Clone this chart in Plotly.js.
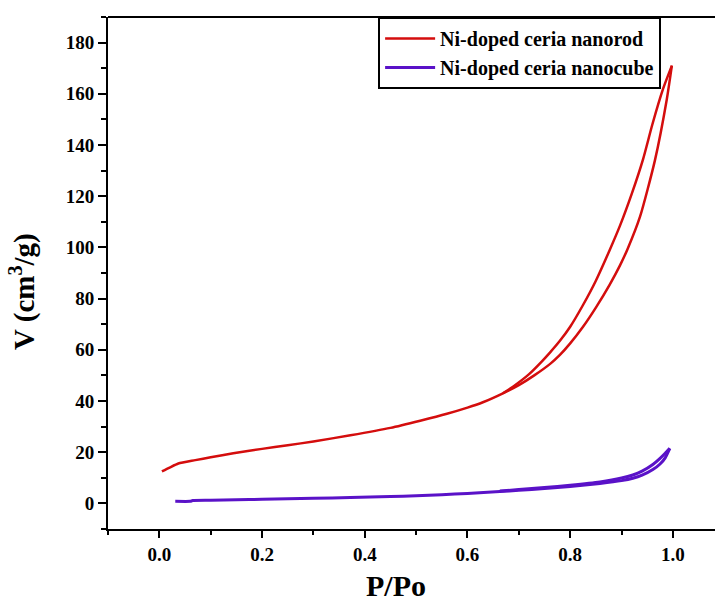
<!DOCTYPE html>
<html>
<head>
<meta charset="utf-8">
<script src="https://cdn.plot.ly/plotly-3.0.1.min.js"></script>
<style>html,body{margin:0;padding:0;background:#fff;}#chart{width:715px;height:609px;}</style>
</head>
<body>
<div id="chart"></div>
<script>
// Ni-doped ceria nanorod: adsorption branch
var rodAdsX = [0.005, 0.02, 0.037, 0.07, 0.1, 0.144, 0.2, 0.25, 0.3, 0.372, 0.45, 0.508, 0.56, 0.6, 0.63, 0.669, 0.7, 0.73, 0.761, 0.78, 0.8, 0.825, 0.85, 0.877, 0.897, 0.912, 0.936, 0.965, 0.988, 0.998];
var rodAdsY = [12.5, 14.0, 15.6, 16.9, 18.0, 19.6, 21.3, 22.7, 24.2, 26.6, 29.5, 32.3, 35.0, 37.4, 39.5, 43.0, 46.2, 50.0, 54.5, 58.0, 62.5, 69.0, 76.5, 85.5, 93.0, 99.5, 112.0, 134.0, 157.7, 171.0];
// Ni-doped ceria nanorod: desorption branch
var rodDesX = [0.998, 0.981, 0.96, 0.942, 0.92, 0.897, 0.877, 0.85, 0.825, 0.8, 0.78, 0.761, 0.745, 0.72, 0.69, 0.669];
var rodDesY = [171.0, 162.0, 148.0, 134.5, 121.0, 108.5, 99.0, 87.0, 77.5, 69.0, 63.5, 59.0, 55.5, 50.5, 45.8, 43.0];
// Ni-doped ceria nanocube: adsorption branch
var cubeAdsX = [0.031, 0.06, 0.065, 0.1, 0.15, 0.2, 0.25, 0.3, 0.372, 0.45, 0.5, 0.55, 0.6, 0.663, 0.7, 0.75, 0.8, 0.858, 0.9, 0.922, 0.94, 0.961, 0.975, 0.985, 0.994];
var cubeAdsY = [0.8, 0.8, 1.1, 1.2, 1.4, 1.6, 1.8, 2.0, 2.3, 2.7, 3.0, 3.4, 3.9, 4.6, 5.1, 5.8, 6.6, 7.8, 8.9, 9.8, 11.0, 13.2, 15.4, 17.8, 21.5];
// Ni-doped ceria nanocube: desorption branch
var cubeDesX = [0.994, 0.985, 0.975, 0.961, 0.94, 0.922, 0.9, 0.858, 0.8, 0.75, 0.7, 0.663];
var cubeDesY = [21.5, 19.6, 17.6, 15.2, 12.6, 11.1, 9.9, 8.4, 7.1, 6.2, 5.4, 4.8];

var seriesNames = ['Ni-doped ceria nanorod', 'Ni-doped ceria nanocube'];
var xTickVals = [0, 0.2, 0.4, 0.6, 0.8, 1.0];
var xTickText = ['0.0', '0.2', '0.4', '0.6', '0.8', '1.0'];
var yTickVals = [0, 20, 40, 60, 80, 100, 120, 140, 160, 180];
var yTickText = ['0', '20', '40', '60', '80', '100', '120', '140', '160', '180'];

var serif = 'Liberation Serif, Times New Roman, serif';
var rodColor = '#d40d0d';
var cubeColor = '#5a12c8';

function branch(x, y, name, color, width, show) {
  return {
    x: x, y: y, mode: 'lines', name: name, legendgroup: name, showlegend: show,
    line: {color: color, width: width, shape: 'spline', smoothing: 0.6}
  };
}

var traces = [
  branch(rodAdsX, rodAdsY, seriesNames[0], rodColor, 2.5, true),
  branch(rodDesX, rodDesY, seriesNames[0], rodColor, 2.5, false),
  branch(cubeAdsX, cubeAdsY, seriesNames[1], cubeColor, 3, true),
  branch(cubeDesX, cubeDesY, seriesNames[1], cubeColor, 3, false)
];

var tickFont = {family: serif, size: 19, color: '#000', weight: 'bold'};

var layout = {
  width: 715, height: 609,
  margin: {l: 108, r: 0, t: 17, b: 80},
  paper_bgcolor: '#fff', plot_bgcolor: '#fff',
  showlegend: true,
  legend: {
    x: 0.445, y: 1, xanchor: 'left', yanchor: 'top',
    bgcolor: '#fff', bordercolor: '#000', borderwidth: 2,
    itemwidth: 50, tracegroupgap: 0,
    font: {family: serif, size: 20, color: '#000', weight: 'bold'}
  },
  xaxis: {
    range: [-0.1, 1.082],
    tickvals: xTickVals, ticktext: xTickText,
    ticks: 'outside', ticklen: 7, tickwidth: 2, tickcolor: '#000',
    minor: {dtick: 0.1, tick0: 0, ticks: 'outside', ticklen: 4, tickwidth: 2, tickcolor: '#000'},
    showline: true, linewidth: 2, linecolor: '#000',
    showgrid: false, zeroline: false,
    tickfont: tickFont
  },
  yaxis: {
    range: [-10, 190],
    tickvals: yTickVals, ticktext: yTickText,
    ticks: 'outside', ticklen: 8, tickwidth: 2, tickcolor: '#000',
    minor: {dtick: 10, tick0: 0, ticks: 'outside', ticklen: 5, tickwidth: 2, tickcolor: '#000'},
    showline: true, linewidth: 2, linecolor: '#000',
    showgrid: false, zeroline: false,
    tickfont: tickFont
  },
  shapes: [
    {type: 'line', xref: 'paper', yref: 'paper', x0: 0, x1: 1, y0: 1, y1: 1, line: {color: '#000', width: 2}}
  ],
  annotations: [
    {text: 'P/Po', xref: 'paper', yref: 'paper', x: 0.474, y: 0, yshift: -56, xanchor: 'center', yanchor: 'middle', showarrow: false,
     font: {family: serif, size: 30, color: '#000', weight: 'bold'}},
    {text: 'V (cm<sup>3</sup>/g)', xref: 'paper', yref: 'paper', x: 0, xshift: -85, y: 0.463, xanchor: 'center', yanchor: 'middle', textangle: -90, showarrow: false,
     font: {family: serif, size: 29, color: '#000', weight: 'bold'}}
  ]
};

Plotly.newPlot('chart', traces, layout, {displayModeBar: false, staticPlot: true});
</script>
</body>
</html>
